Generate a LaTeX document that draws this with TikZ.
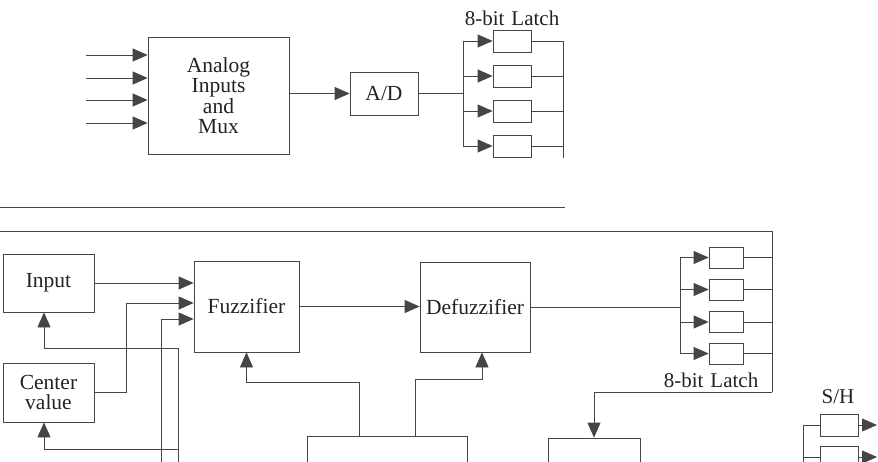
\documentclass[tikz,border=0pt]{standalone}
\usepackage{fontspec}
\setmainfont{Liberation Serif}
\usetikzlibrary{positioning, arrows.meta}
\definecolor{inkline}{HTML}{454545}
\definecolor{inktext}{HTML}{222222}

\begin{document}
\begin{tikzpicture}[x=1pt, y=-1pt, line width=0.75pt, color=inkline,
    box/.style={draw=inkline, rectangle, inner sep=0pt, align=center, text=inktext, font=\fontsize{21.5}{20.5}\selectfont},
    latch/.style={draw=inkline, rectangle, inner sep=0pt, minimum width=38, minimum height=22},
    lbl/.style={text=inktext, inner sep=0pt, font=\fontsize{21}{21}\selectfont},
    arr/.style={-{Triangle[length=15pt, width=13pt]}}]
    \useasboundingbox (0,0) rectangle (878,461);
    \clip (0,0) rectangle (878,461);

    % Analog front end
    \node (mux) at (218.5,95.5) [box, minimum width=141, minimum height=117] {Analog\\Inputs\\and\\Mux};
    \node (ad) at (384,93.5) [box, minimum width=68, minimum height=43] {A/D};
    \foreach \y [count=\i] in {55,78,100,123}
        \coordinate (in\i) at (86,\y);
    \foreach \i in {1,...,4}
        \draw[arr] (in\i) -- (in\i -| mux.west);
    \draw[arr] (mux.east |- ad.west) -- (ad.west);

    % 8-bit latch (top)
    \coordinate (tbus) at (463,93.5);
    \coordinate (tout) at (563,41);
    \coordinate (toutb) at (563,158);
    \foreach \y [count=\i] in {41,76,111,146}
        \node (tl\i) at (512,\y) [latch] {};
    \node (tlbl) at (512,18) [lbl] {8-bit\hspace{7pt}Latch};
    \draw (ad.east) -- (tbus);
    \draw (tbus |- tl1) -- (tbus |- tl4);
    \foreach \i in {1,...,4} {
        \draw[arr] (tbus |- tl\i) -- (tl\i.west);
        \draw (tl\i.east) -- (tl\i.east -| tout);
    }
    \draw (tout) -- (toutb);

    % separator
    \coordinate (sepL) at (0,207);
    \coordinate (sepR) at (565,207);
    \draw (sepL) -- (sepR);

    % Fuzzy stage
    \node (inp) at (48.5,283) [box, minimum width=91, minimum height=58] {Input};
    \node (cval) at (48.5,392.5) [box, minimum width=91, minimum height=59] {Center\\value};
    \node (fuzz) at (246.5,306.5) [box, minimum width=105, minimum height=91] {Fuzzifier};
    \node (defuzz) at (475,307) [box, minimum width=110, minimum height=90] {Defuzzifier};
    \node (ctrl) at (387,480) [box, minimum width=160, minimum height=88] {};
    \node (outbox) at (594,482) [box, minimum width=92, minimum height=88] {};

    \draw[arr] (inp.east) -- (inp.east -| fuzz.west);
    \coordinate (cvup) at (126,303);
    \draw[arr] (cval.east) -| (cvup) -- (cvup -| fuzz.west);
    \coordinate (f3) at (161,319);
    \coordinate (f3b) at (161,470);
    \draw[arr] (f3b) -- (f3) -- (f3 -| fuzz.west);
    \coordinate (fbA) at (178,348);
    \coordinate (fbC) at (178,449);
    \coordinate (fbb) at (178,470);
    \draw (fbb) -- (fbA);
    \draw[arr] (fbA) -| ([xshift=-4.5pt]inp.south);
    \draw[arr] (fbC) -| ([xshift=-4.5pt]cval.south);

    \draw[arr] (fuzz.east) -- (fuzz.east -| defuzz.west);
    \coordinate (j1) at (359,382);
    \coordinate (j2) at (415,379);
    \draw[arr] (ctrl.north -| j1) -- (j1) -| (fuzz.south);
    \draw[arr] (ctrl.north -| j2) -- (j2) -| ([xshift=7pt]defuzz.south);

    % 8-bit latch (bottom)
    \coordinate (bbus) at (680,307);
    \coordinate (bout) at (772,231);
    \coordinate (boutb) at (772,392);
    \coordinate (fbL) at (0,231);
    \foreach \y [count=\i] in {257.5,289.5,322,353.5}
        \node (bl\i) at (726,\y) [latch, minimum width=34, minimum height=21] {};
    \node (blbl) at (711,380) [lbl] {8-bit\hspace{7pt}Latch};
    \draw (defuzz.east) -- (bbus);
    \draw (bbus |- bl1) -- (bbus |- bl4);
    \foreach \i in {1,...,4} {
        \draw[arr] (bbus |- bl\i) -- (bl\i.west);
        \draw (bl\i.east) -- (bl\i.east -| bout);
    }
    \draw (fbL) -- (bout) -- (boutb);
    \draw[arr] (boutb) -| (outbox.north);

    % S/H
    \node (shlbl) at (838,397) [lbl] {S/H};
    \node (sh1) at (839,425) [latch] {};
    \node (sh2) at (839,457) [latch] {};
    \coordinate (shbus) at (803,425);
    \coordinate (shbusb) at (803,470);
    \coordinate (shout) at (877,0);
    \draw (shbus) -- (shbusb);
    \foreach \i in {1,2} {
        \draw (shbus |- sh\i) -- (sh\i.west);
        \draw[arr] (sh\i.east) -- (sh\i.east -| shout);
    }
\end{tikzpicture}
\end{document}
